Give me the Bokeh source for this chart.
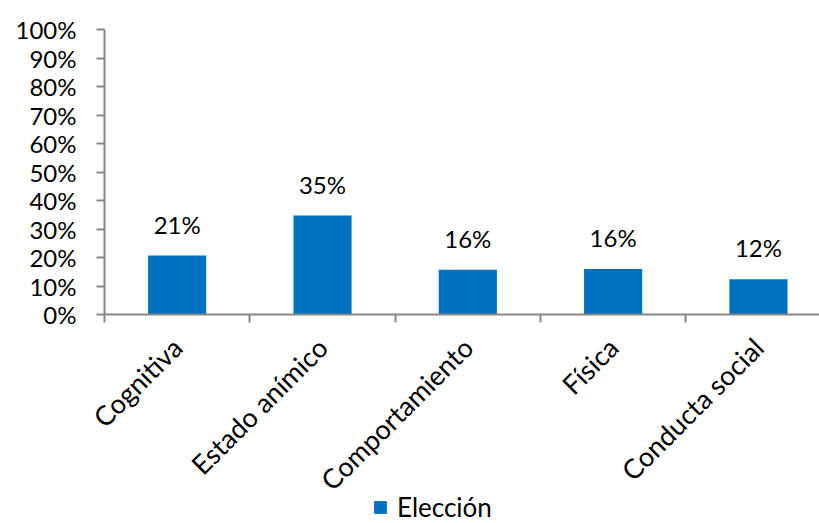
from bokeh.plotting import figure
from bokeh.models import (Range1d, FixedTicker, NumeralTickFormatter, ColumnDataSource,
                          LabelSet, Legend, LegendItem)
from bokeh.core.properties import value
from bokeh.embed import file_html
from bokeh.resources import INLINE
import math

categories = ["Cognitiva", "Estado anímico", "Comportamiento", "Física", "Conducta social"]
values = [0.207, 0.347, 0.157, 0.160, 0.124]
value_labels = ["21%", "35%", "16%", "16%", "12%"]
y_ticks = [0, 0.1, 0.2, 0.3, 0.4, 0.5, 0.6, 0.7, 0.8, 0.9, 1.0]
series_name = "Elección"

FONT = "Lato"
BLUE = "#0070C0"
GRAY = "#868686"

xs = [i + 0.5 for i in range(len(categories))]
src = ColumnDataSource(dict(x=xs, top=values, label=value_labels))

# the frame fills the whole canvas; both axes are pinned at the data origin
p = figure(frame_width=819, frame_height=523, output_backend="svg", toolbar_location=None,
           x_range=Range1d(-0.7158, 4.92), y_range=Range1d(-0.7333, 1.1018),
           min_border_left=0, min_border_right=0, min_border_top=0,
           min_border_bottom=0)
p.outline_line_color = None
p.xgrid.grid_line_color = None
p.ygrid.grid_line_color = None

r = p.vbar(x="x", top="top", width=0.4, bottom=0, source=src, fill_color=BLUE,
           line_color=None)

labels = LabelSet(x="x", y="top", text="label", source=src, y_offset=22,
                  text_align="center", text_baseline="alphabetic",
                  text_font=value(FONT), text_font_size=value("24px"), text_color="black")
p.add_layout(labels)

# y axis
p.yaxis.fixed_location = 0
p.yaxis.ticker = FixedTicker(ticks=y_ticks)
p.yaxis.bounds = (0, 1)
p.yaxis.formatter = NumeralTickFormatter(format="0%")
p.yaxis.axis_line_color = GRAY
p.yaxis.axis_line_width = 2
p.yaxis.major_tick_line_color = GRAY
p.yaxis.major_tick_line_width = 2
p.yaxis.major_tick_out = 8
p.yaxis.major_tick_in = 0
p.yaxis.minor_tick_line_color = None
p.yaxis.major_label_standoff = 20
p.yaxis.major_label_text_font = FONT
p.yaxis.major_label_text_font_size = "24px"
p.yaxis.major_label_text_color = "black"

# x axis
p.xaxis.fixed_location = 0
p.xaxis.bounds = (0, 4.92)
p.xaxis.ticker = FixedTicker(ticks=xs, minor_ticks=list(range(len(categories) + 1)))
p.xaxis.major_label_overrides = {x: c for x, c in zip(xs, categories)}
p.xaxis.axis_line_color = GRAY
p.xaxis.axis_line_width = 2
p.xaxis.major_tick_line_color = None
p.xaxis.minor_tick_line_color = GRAY
p.xaxis.minor_tick_line_width = 2
p.xaxis.minor_tick_out = 8
p.xaxis.minor_tick_in = 0
p.xaxis.major_label_orientation = math.pi / 4
p.xaxis.major_label_standoff = 20
p.xaxis.major_label_text_font = FONT
p.xaxis.major_label_text_font_size = "27px"
p.xaxis.major_label_text_color = "black"

legend = Legend(items=[LegendItem(label=series_name, renderers=[r])],
                location=(372, 0), orientation="horizontal",
                label_text_font=FONT, label_text_font_size="26px",
                label_text_color="black",
                glyph_width=16, glyph_height=16, label_standoff=9,
                padding=0, margin=0, border_line_color=None,
                background_fill_alpha=0)
p.add_layout(legend, "center")

open("out.html", "w").write(file_html(p, INLINE))
